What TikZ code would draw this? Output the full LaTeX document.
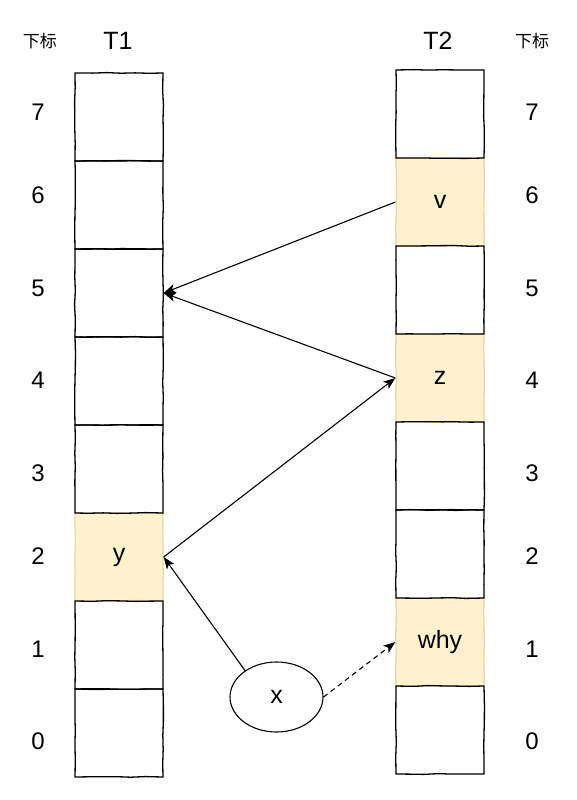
\documentclass[tikz,border=0pt]{standalone}
\usepackage{fontspec}
\setmainfont{Liberation Sans}
\newfontfamily\cjk{Noto Sans CJK SC}
\usetikzlibrary{shapes.geometric,arrows.meta,decorations.pathmorphing}
\definecolor{cellfill}{HTML}{FFF2CC}
\definecolor{cellline}{HTML}{E8D9A8}
\tikzset{
  sketch/.style={decorate,decoration={random steps,segment length=14pt,amplitude=0.45pt}},
  cellbox/.style={rectangle,draw=black,line width=1.3pt,minimum width=88pt,minimum height=88pt,inner sep=0pt,font=\fontsize{25}{30}\selectfont,sketch},
  hlbox/.style={cellbox,fill=cellfill,draw=cellline},
  idx/.style={font=\fontsize{24}{28}\selectfont,inner sep=0pt},
  head/.style={font=\fontsize{25}{30}\selectfont,inner sep=0pt},
  cjklab/.style={font=\cjk\fontsize{17}{20}\selectfont,inner sep=0pt},
  link/.style={line width=1.1pt,-{Stealth[length=12pt,width=9pt,inset=3pt]}},
  varnode/.style={ellipse,draw=black,line width=1.1pt,minimum width=93pt,minimum height=70pt,inner sep=0pt,font=\fontsize{25}{30}\selectfont,fill=white}
}
\begin{document}
\begin{tikzpicture}[x=1pt,y=-1pt]
\useasboundingbox[fill=white] (0,0) rectangle (576,800);
% highlighted cells first
\node[hlbox] (b6) at (440,202) {v};
\node[hlbox] (b4) at (440,378) {z};
\node[hlbox] (b1) at (440,642) {why};
\node[hlbox] (a2) at (119,557) {y};
% plain cells
\node[cellbox] (a7) at (119,117) {};
\node[cellbox] (a6) at (119,205) {};
\node[cellbox] (a5) at (119,293) {};
\node[cellbox] (a4) at (119,381) {};
\node[cellbox] (a3) at (119,469) {};
\node[cellbox] (a1) at (119,645) {};
\node[cellbox] (a0) at (119,733) {};
\node[cellbox] (b7) at (440,114) {};
\node[cellbox] (b5) at (440,290) {};
\node[cellbox] (b3) at (440,466) {};
\node[cellbox] (b2) at (440,554) {};
\node[cellbox] (b0) at (440,730) {};
% headers
\node[cjklab] (hl) at (40,41) {下标};
\node[head] (h1) at (118,41) {T1};
\node[head] (h2) at (438,41) {T2};
\node[cjklab] (hr) at (532,41) {下标};
% index labels
\foreach \i/\yl in {7/112,6/195,5/288,4/380,3/473,2/556,1/649,0/741}{
  \node[idx] (l\i) at (38,\yl) {\i};
  \node[idx] (r\i) at (532,\yl) {\i};
}
% variable x
\node[varnode] (x) at (276.5,697) {x};
% connectors
\draw[link] (b6.west) -- (a5.east);
\draw[link] (b4.west) -- (a5.east);
\draw[link] (a2.east) -- (b4.west);
\draw[link] (x.140) -- (a2.east);
\draw[link,dashed,dash pattern=on 5pt off 4pt] (x.east) -- (b1.west);
\end{tikzpicture}
\end{document}
